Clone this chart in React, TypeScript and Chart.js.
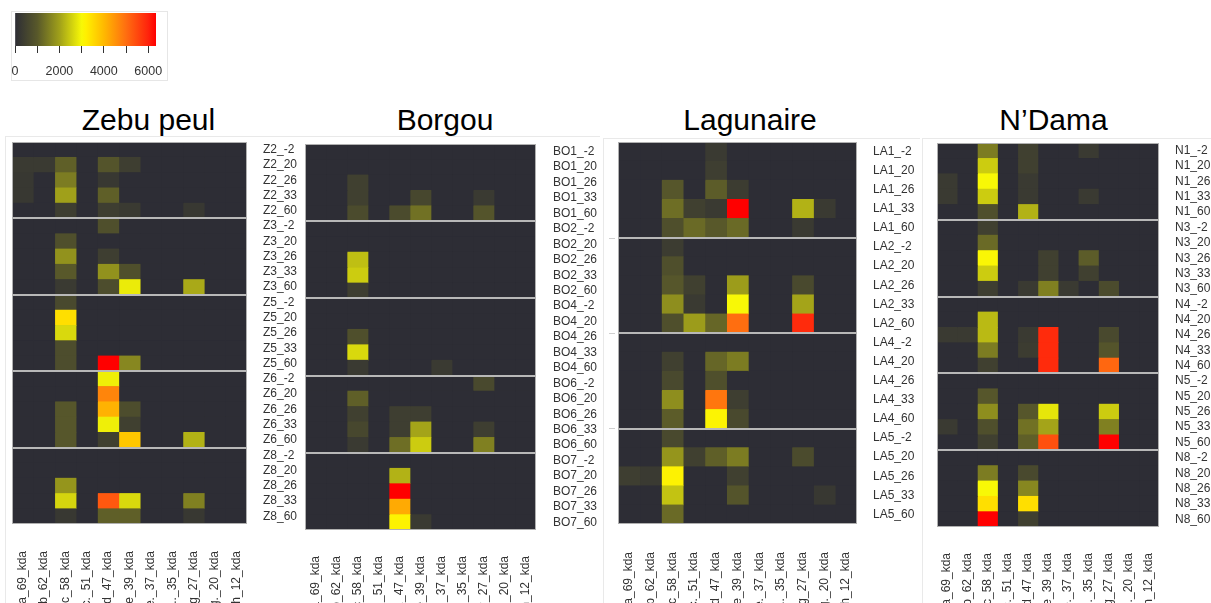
import React, { useEffect, useRef } from "react";
import { Chart, registerables } from "chart.js";

Chart.register(...registerables);

const FONT = '"Liberation Sans", Arial, Helvetica, sans-serif';
const TEXT = "#333333";

// ---------- data ----------
const columnLabels = [
  "a_69_kda", "b_62_kda", "c_58_kda", "c._51_kda", "d_47_kda", "e_39_kda",
  "e._37_kda", "a.._35_kda", "g_27_kda", "g._20_kda", "h_12_kda",
];

const legendTicks = [0, 1000, 2000, 3000, 4000, 5000, 6000];
const legendMax = 6350;

const zebuRows = [
  "Z2_-2", "Z2_20", "Z2_26", "Z2_33", "Z2_60",
  "Z3_-2", "Z3_20", "Z3_26", "Z3_33", "Z3_60",
  "Z5_-2", "Z5_20", "Z5_26", "Z5_33", "Z5_60",
  "Z6_-2", "Z6_20", "Z6_26", "Z6_33", "Z6_60",
  "Z8_-2", "Z8_20", "Z8_26", "Z8_33", "Z8_60",
];
const zebuValues = [
  [0, 0, 0, 0, 0, 0, 0, 0, 0, 0, 0],
  [300, 300, 1100, 0, 900, 400, 0, 0, 0, 0, 0],
  [250, 0, 1500, 0, 250, 0, 0, 0, 0, 0, 0],
  [250, 0, 2000, 0, 1100, 0, 0, 0, 0, 0, 0],
  [0, 0, 400, 0, 400, 300, 0, 0, 250, 0, 0],
  [0, 0, 0, 0, 800, 0, 0, 0, 0, 0, 0],
  [0, 0, 800, 0, 0, 0, 0, 0, 0, 0, 0],
  [0, 0, 1800, 0, 400, 0, 0, 0, 0, 0, 0],
  [0, 0, 1000, 0, 1800, 800, 0, 0, 0, 0, 0],
  [0, 0, 300, 0, 750, 2850, 0, 0, 2100, 0, 0],
  [0, 0, 650, 0, 0, 0, 0, 0, 0, 0, 0],
  [0, 0, 3450, 0, 0, 0, 0, 0, 0, 0, 0],
  [0, 0, 2650, 0, 0, 0, 0, 0, 0, 0, 0],
  [0, 0, 750, 0, 0, 0, 0, 0, 0, 0, 0],
  [0, 0, 750, 0, 6350, 1650, 0, 0, 0, 0, 0],
  [0, 0, 0, 0, 2900, 0, 0, 0, 0, 0, 0],
  [0, 0, 0, 0, 4700, 0, 0, 0, 0, 0, 0],
  [0, 0, 950, 0, 4100, 750, 0, 0, 0, 0, 0],
  [0, 0, 950, 0, 2900, 450, 0, 0, 0, 0, 0],
  [0, 0, 950, 0, 450, 3800, 0, 0, 2200, 0, 0],
  [0, 0, 0, 0, 0, 0, 0, 0, 0, 0, 0],
  [0, 0, 0, 0, 0, 0, 0, 0, 0, 0, 0],
  [0, 0, 1850, 0, 0, 0, 0, 0, 0, 0, 0],
  [0, 0, 2600, 0, 5300, 2650, 0, 0, 1550, 0, 0],
  [0, 0, 250, 0, 1100, 1100, 0, 0, 250, 0, 0],
];

const borgouRows = [
  "BO1_-2", "BO1_20", "BO1_26", "BO1_33", "BO1_60",
  "BO2_-2", "BO2_20", "BO2_26", "BO2_33", "BO2_60",
  "BO4_-2", "BO4_20", "BO4_26", "BO4_33", "BO4_60",
  "BO6_-2", "BO6_20", "BO6_26", "BO6_33", "BO6_60",
  "BO7_-2", "BO7_20", "BO7_26", "BO7_33", "BO7_60",
];
const borgouValues = [
  [0, 0, 0, 0, 0, 0, 0, 0, 0, 0, 0],
  [0, 0, 0, 0, 0, 0, 0, 0, 0, 0, 0],
  [0, 0, 450, 0, 0, 0, 0, 0, 0, 0, 0],
  [0, 0, 450, 0, 0, 600, 0, 0, 300, 0, 0],
  [0, 0, 700, 0, 700, 1350, 0, 0, 900, 0, 0],
  [0, 0, 0, 0, 0, 0, 0, 0, 0, 0, 0],
  [0, 0, 0, 0, 0, 0, 0, 0, 0, 0, 0],
  [0, 0, 2350, 0, 0, 0, 0, 0, 0, 0, 0],
  [0, 0, 2500, 0, 0, 0, 0, 0, 0, 0, 0],
  [0, 0, 400, 0, 0, 0, 0, 0, 0, 0, 0],
  [0, 0, 0, 0, 0, 0, 0, 0, 0, 0, 0],
  [0, 0, 0, 0, 0, 0, 0, 0, 0, 0, 0],
  [0, 0, 800, 0, 0, 0, 0, 0, 0, 0, 0],
  [0, 0, 2650, 0, 0, 0, 0, 0, 0, 0, 0],
  [0, 0, 300, 0, 0, 0, 300, 0, 0, 0, 0],
  [0, 0, 0, 0, 0, 0, 0, 0, 650, 0, 0],
  [0, 0, 1100, 0, 0, 0, 0, 0, 0, 0, 0],
  [0, 0, 450, 0, 400, 400, 0, 0, 0, 0, 0],
  [0, 0, 600, 0, 400, 2050, 0, 0, 400, 0, 0],
  [0, 0, 300, 0, 1300, 2500, 0, 0, 1550, 0, 0],
  [0, 0, 0, 0, 0, 0, 0, 0, 0, 0, 0],
  [0, 0, 0, 0, 2200, 0, 0, 0, 0, 0, 0],
  [0, 0, 0, 0, 6350, 0, 0, 0, 0, 0, 0],
  [0, 0, 0, 0, 4200, 0, 0, 0, 0, 0, 0],
  [0, 0, 0, 0, 3150, 300, 0, 0, 0, 0, 0],
];

const lagunaireRows = [
  "LA1_-2", "LA1_20", "LA1_26", "LA1_33", "LA1_60",
  "LA2_-2", "LA2_20", "LA2_26", "LA2_33", "LA2_60",
  "LA4_-2", "LA4_20", "LA4_26", "LA4_33", "LA4_60",
  "LA5_-2", "LA5_20", "LA5_26", "LA5_33", "LA5_60",
];
const lagunaireValues = [
  [0, 0, 0, 0, 300, 0, 0, 0, 0, 0, 0],
  [0, 0, 0, 0, 400, 0, 0, 0, 0, 0, 0],
  [0, 0, 950, 0, 1050, 350, 0, 0, 0, 0, 0],
  [0, 0, 1300, 450, 300, 6350, 0, 0, 2200, 300, 0],
  [0, 0, 800, 1250, 1000, 1250, 0, 0, 300, 0, 0],
  [0, 0, 350, 0, 0, 0, 0, 0, 0, 0, 0],
  [0, 0, 800, 0, 0, 0, 0, 0, 0, 0, 0],
  [0, 0, 950, 450, 0, 1950, 0, 0, 650, 0, 0],
  [0, 0, 1750, 300, 0, 3000, 0, 0, 2050, 0, 0],
  [0, 0, 800, 1950, 1200, 5000, 0, 0, 5900, 0, 0],
  [0, 0, 0, 0, 0, 0, 0, 0, 0, 0, 0],
  [0, 0, 450, 0, 1200, 1500, 0, 0, 0, 0, 0],
  [0, 0, 650, 0, 800, 0, 0, 0, 0, 0, 0],
  [0, 0, 1750, 0, 4900, 400, 0, 0, 0, 0, 0],
  [0, 0, 1050, 0, 3100, 650, 0, 0, 0, 0, 0],
  [0, 0, 650, 0, 0, 0, 0, 0, 0, 0, 0],
  [0, 0, 1850, 450, 1100, 1500, 0, 0, 700, 0, 0],
  [400, 300, 3150, 0, 0, 450, 0, 0, 0, 0, 0],
  [0, 0, 2400, 0, 0, 900, 0, 0, 0, 250, 0],
  [0, 0, 1250, 0, 0, 0, 0, 0, 0, 0, 0],
];

const ndamaRows = [
  "N1_-2", "N1_20", "N1_26", "N1_33", "N1_60",
  "N3_-2", "N3_20", "N3_26", "N3_33", "N3_60",
  "N4_-2", "N4_20", "N4_26", "N4_33", "N4_60",
  "N5_-2", "N5_20", "N5_26", "N5_33", "N5_60",
  "N8_-2", "N8_20", "N8_26", "N8_33", "N8_60",
];
const ndamaValues = [
  [0, 0, 1500, 0, 450, 0, 0, 300, 0, 0, 0],
  [0, 0, 2500, 0, 450, 0, 0, 0, 0, 0, 0],
  [300, 0, 3000, 0, 300, 0, 0, 0, 0, 0, 0],
  [300, 0, 2500, 0, 300, 0, 0, 300, 0, 0, 0],
  [0, 0, 800, 0, 2200, 0, 0, 0, 0, 0, 0],
  [0, 0, 450, 0, 0, 0, 0, 0, 0, 0, 0],
  [0, 0, 1250, 0, 0, 0, 0, 0, 0, 0, 0],
  [0, 0, 3050, 0, 0, 450, 0, 1050, 0, 0, 0],
  [0, 0, 2500, 0, 0, 450, 0, 450, 0, 0, 0],
  [0, 0, 400, 0, 300, 1550, 300, 0, 700, 0, 0],
  [0, 0, 0, 0, 0, 0, 0, 0, 0, 0, 0],
  [0, 0, 2300, 0, 0, 0, 0, 0, 0, 0, 0],
  [300, 300, 2300, 0, 300, 5900, 0, 0, 650, 0, 0],
  [0, 0, 1500, 0, 350, 5900, 0, 0, 900, 0, 0],
  [0, 0, 450, 0, 0, 5900, 0, 0, 5100, 0, 0],
  [0, 0, 0, 0, 0, 0, 0, 0, 0, 0, 0],
  [0, 0, 950, 0, 0, 0, 0, 0, 0, 0, 0],
  [0, 0, 1750, 0, 950, 2800, 0, 0, 2500, 0, 0],
  [300, 0, 800, 0, 1350, 2050, 0, 0, 1550, 0, 0],
  [0, 0, 450, 0, 1100, 5400, 0, 0, 6350, 0, 0],
  [0, 0, 0, 0, 0, 0, 0, 0, 0, 0, 0],
  [0, 0, 1500, 0, 650, 0, 0, 0, 0, 0, 0],
  [0, 0, 3000, 0, 1650, 0, 0, 0, 0, 0, 0],
  [0, 0, 3450, 0, 3450, 0, 0, 0, 0, 0, 0],
  [0, 0, 6350, 0, 450, 0, 0, 0, 0, 0, 0],
];

// ---------- colour scale ----------
const colorStops: [number, number[]][] = [
  [0, [45, 45, 53]],
  [1000, [88, 88, 42]],
  [2000, [160, 160, 26]],
  [3000, [248, 248, 6]],
  [3200, [255, 240, 0]],
  [4000, [255, 185, 0]],
  [5000, [255, 110, 16]],
  [6000, [255, 35, 12]],
  [6350, [255, 0, 0]],
];

function rgb(c: number[]) {
  return `rgb(${Math.round(c[0])},${Math.round(c[1])},${Math.round(c[2])})`;
}

function valueColor(v: number) {
  if (v <= colorStops[0][0]) return rgb(colorStops[0][1]);
  for (let i = 1; i < colorStops.length; i++) {
    const [v1, c1] = colorStops[i];
    const [v0, c0] = colorStops[i - 1];
    if (v <= v1) {
      const t = (v - v0) / (v1 - v0);
      return rgb([0, 1, 2].map((k) => c0[k] + (c1[k] - c0[k]) * t));
    }
  }
  return rgb(colorStops[colorStops.length - 1][1]);
}

function zeroPadding(s: any) {
  s.paddingTop = 0;
  s.paddingBottom = 0;
  s.paddingLeft = 0;
  s.paddingRight = 0;
}

// ---------- plugins ----------
const heatBackground = {
  id: "heatBackground",
  beforeDatasetsDraw(chart: any) {
    const { ctx, chartArea: a } = chart;
    ctx.save();
    ctx.fillStyle = rgb(colorStops[0][1]);
    ctx.fillRect(a.left, a.top, a.right - a.left, a.bottom - a.top);
    ctx.restore();
  },
};

const heatFrame = {
  id: "heatFrame",
  afterDraw(chart: any) {
    const { ctx, chartArea: a } = chart;
    ctx.save();
    ctx.strokeStyle = "#b0b0b0";
    ctx.lineWidth = 1;
    ctx.strokeRect(
      Math.round(a.left) + 0.5,
      Math.round(a.top) + 0.5,
      Math.round(a.right - a.left) - 1,
      Math.round(a.bottom - a.top) - 1
    );
    ctx.restore();
  },
};

type Geo = {
  left: number; top: number; width: number; height: number;
  padLeft: number; padTop: number; yWidth: number; xHeight: number;
  yPad: number; xPad: number;
};

function HeatPanel({ rows, values, geo }: { rows: string[]; values: number[][]; geo: Geo }) {
  const ref = useRef<HTMLCanvasElement | null>(null);
  useEffect(() => {
    if (!ref.current) return;
    const datasets = columnLabels.map((col, j) => ({
      label: col,
      data: rows.map(() => 1),
      backgroundColor: values.map((r) => valueColor(r[j])),
      borderWidth: 0,
      barPercentage: 1,
      categoryPercentage: 1,
    }));
    const chart = new Chart(ref.current, {
      type: "bar",
      data: { labels: rows, datasets },
      options: {
        indexAxis: "y",
        responsive: false,
        animation: false,
        events: [],
        layout: { padding: { left: geo.padLeft, top: geo.padTop, right: 0, bottom: 0 } },
        plugins: {
          legend: { display: false },
          tooltip: { enabled: false },
          title: { display: false },
        },
        scales: {
          x: {
            type: "linear",
            stacked: true,
            min: 0,
            max: columnLabels.length,
            afterBuildTicks: (s: any) => {
              s.ticks = columnLabels.map((_, i) => ({ value: i + 0.5 }));
            },
            afterFit: (s: any) => {
              s.height = geo.xHeight;
              zeroPadding(s);
            },
            grid: { display: false },
            border: { display: false },
            ticks: {
              autoSkip: false,
              minRotation: 90,
              maxRotation: 90,
              padding: geo.xPad,
              color: TEXT,
              font: { family: FONT, size: 12 },
              callback: (_v: any, i: number) => columnLabels[i],
            },
          },
          y: {
            type: "category",
            stacked: true,
            position: "right",
            afterFit: (s: any) => {
              s.width = geo.yWidth;
              zeroPadding(s);
            },
            grid: {
              offset: true,
              drawTicks: false,
              z: 1,
              color: (ctx: any) =>
                ctx.type === "tick" && ctx.index > 0 && ctx.index % 5 === 0
                  ? "#b8b8b8"
                  : "rgba(0,0,0,0)",
              lineWidth: 2,
            },
            border: { display: false },
            ticks: {
              autoSkip: false,
              padding: geo.yPad,
              color: TEXT,
              font: { family: FONT, size: 12 },
            },
          },
        },
      },
      plugins: [heatBackground, heatFrame],
    } as any);
    return () => chart.destroy();
  }, [rows, values, geo]);
  return (
    <canvas
      ref={ref}
      width={geo.width}
      height={geo.height}
      style={{ position: "absolute", left: geo.left, top: geo.top, width: geo.width, height: geo.height }}
    />
  );
}

function ColorLegend() {
  const ref = useRef<HTMLCanvasElement | null>(null);
  useEffect(() => {
    if (!ref.current) return;
    const chart = new Chart(ref.current, {
      type: "bar",
      data: {
        labels: ["scale"],
        datasets: [
          {
            data: [[0, legendMax]],
            borderWidth: 0,
            barPercentage: 1,
            categoryPercentage: 1,
            backgroundColor: (c: any) => {
              const a = c.chart.chartArea;
              if (!a) return rgb(colorStops[0][1]);
              const g = c.chart.ctx.createLinearGradient(a.left, 0, a.right, 0);
              colorStops.forEach(([v, col]) => g.addColorStop(v / legendMax, rgb(col)));
              return g;
            },
          },
        ],
      },
      options: {
        indexAxis: "y",
        responsive: false,
        animation: false,
        events: [],
        layout: { padding: { left: 3, top: 1, right: 11, bottom: 0 } },
        plugins: { legend: { display: false }, tooltip: { enabled: false } },
        scales: {
          x: {
            type: "linear",
            min: 0,
            max: legendMax,
            afterBuildTicks: (s: any) => {
              s.ticks = legendTicks.map((v) => ({ value: v }));
            },
            afterFit: (s: any) => {
              s.height = 34;
              zeroPadding(s);
            },
            grid: {
              display: true,
              drawOnChartArea: false,
              drawTicks: true,
              tickLength: 7,
              color: "#333",
              tickColor: "#333",
              lineWidth: 1,
            },
            border: { display: false },
            ticks: {
              autoSkip: false,
              maxRotation: 0,
              padding: 11,
              color: TEXT,
              font: { family: FONT, size: 12.5 },
              callback: (v: any) => (Number(v) % 2000 === 0 ? String(v) : ""),
            },
          },
          y: { type: "category", display: false },
        },
      },
    } as any);
    return () => chart.destroy();
  }, []);
  return (
    <canvas
      ref={ref}
      width={155}
      height={68}
      style={{ position: "absolute", left: 12, top: 12, width: 155, height: 68 }}
    />
  );
}

const titles = [
  { text: "Zebu peul", x: 148.5 },
  { text: "Borgou", x: 445 },
  { text: "Lagunaire", x: 750 },
  { text: "N\u2019Dama", x: 1053.5 },
];

const geoZebu: Geo = { left: 0, top: 130, width: 300, height: 473, padLeft: 12, padTop: 12, yWidth: 53, xHeight: 79, yPad: 16, xPad: 19 };
const geoBorgou: Geo = { left: 290, top: 130, width: 320, height: 473, padLeft: 15, padTop: 14, yWidth: 74, xHeight: 73, yPad: 17, xPad: 18 };
const geoLagunaire: Geo = { left: 600, top: 130, width: 320, height: 473, padLeft: 18, padTop: 12, yWidth: 63, xHeight: 79, yPad: 16, xPad: 20 };
const geoNdama: Geo = { left: 920, top: 130, width: 291, height: 473, padLeft: 17, padTop: 13, yWidth: 52, xHeight: 76, yPad: 16, xPad: 18 };

const faint = "#e9e9e9";
const lines = [
  { left: 5, top: 136, width: 1, height: 467 },
  { left: 5, top: 136, width: 595, height: 1 },
  { left: 603, top: 138, width: 1, height: 465 },
  { left: 603, top: 138, width: 317, height: 1 },
  { left: 922, top: 138, width: 1, height: 465 },
  { left: 922, top: 138, width: 289, height: 1 },
  { left: 609, top: 238, width: 6, height: 1 },
  { left: 609, top: 333, width: 6, height: 1 },
  { left: 609, top: 428, width: 6, height: 1 },
];

export default function App() {
  return (
    <div
      style={{
        position: "fixed",
        left: 0,
        top: 0,
        width: 1211,
        height: 603,
        background: "#fff",
        overflow: "hidden",
        fontFamily: FONT,
      }}
    >
      {lines.map((l, i) => (
        <div key={i} style={{ position: "absolute", background: i >= 6 ? "#cfcfcf" : faint, ...l }} />
      ))}
      <div
        style={{
          position: "absolute",
          left: 11,
          top: 11,
          width: 155,
          height: 68,
          border: "1px solid #e6e6e6",
        }}
      />
      <ColorLegend />
      {titles.map((t) => (
        <div
          key={t.text}
          style={{
            position: "absolute",
            left: t.x,
            top: 105,
            transform: "translateX(-50%)",
            fontSize: 30,
            lineHeight: "30px",
            color: "#000",
            whiteSpace: "nowrap",
          }}
        >
          {t.text}
        </div>
      ))}
      <HeatPanel rows={zebuRows} values={zebuValues} geo={geoZebu} />
      <HeatPanel rows={borgouRows} values={borgouValues} geo={geoBorgou} />
      <HeatPanel rows={lagunaireRows} values={lagunaireValues} geo={geoLagunaire} />
      <HeatPanel rows={ndamaRows} values={ndamaValues} geo={geoNdama} />
    </div>
  );
}
